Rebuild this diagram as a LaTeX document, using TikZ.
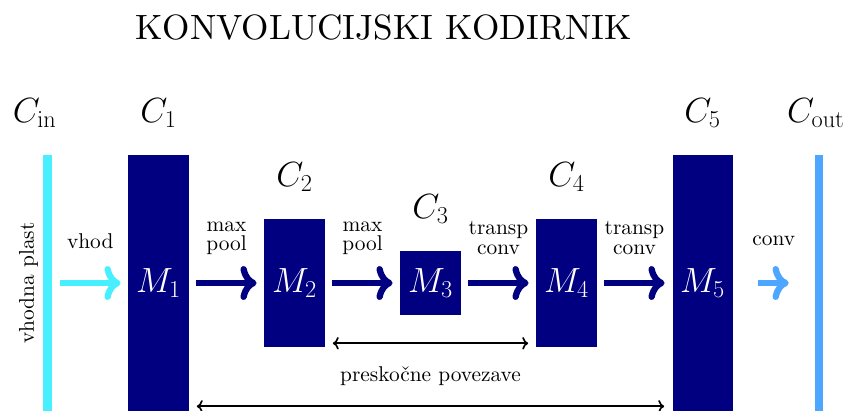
\documentclass[tikz,border=0pt]{standalone}
\usepackage{amsmath}
\usetikzlibrary{arrows.meta}
\definecolor{unetnavy}{RGB}{0,0,128}
\definecolor{incyan}{RGB}{72,240,255}
\definecolor{outblue}{RGB}{77,166,255}

\begin{document}
\begin{tikzpicture}[x=0.025cm, y=-0.025cm,
  block/.style={fill=unetnavy, minimum width=1.5cm, inner sep=0pt, text=white, font=\fontsize{23.5}{28}\selectfont},
  tall/.style={block, minimum height=6.4cm},
  mid/.style={block, minimum height=3.2cm},
  low/.style={block, minimum height=1.6cm},
  bar/.style={minimum width=0.225cm, minimum height=6.4cm, inner sep=0pt},
  ch/.style={font=\fontsize{24}{29}\selectfont, text=black, inner sep=0pt, label distance=0.67cm},
  flow/.style={-{To}, line width=4.5pt, draw=unetnavy, shorten <=0.19cm, shorten >=0.19cm},
  skip/.style={{To}-{To}, line width=1.2pt, shorten <=0.2cm, shorten >=0.2cm},
  txt/.style={font=\fontsize{10}{9}\selectfont, align=center, scale=1.52, transform shape}]
\useasboundingbox (0,0) rectangle (848,410);
\clip (0,0) rectangle (848,410);
\node[font=\fontsize{10}{12}\selectfont, scale=2.5, transform shape] (title) at (383.5,27.5) {KONVOLUCIJSKI KODIRNIK};
\node[bar, fill=incyan, label={[ch, xshift=-0.32cm]above:$C_{\mathrm{in}}$}] (cin) at (47.5,283) {};
\node[tall, label={[ch]above:$C_1$}] (m1) at (158.5,283) {$M_1$};
\node[mid, label={[ch]above:$C_2$}] (m2) at (294.5,283) {$M_2$};
\node[low, label={[ch]above:$C_3$}] (m3) at (430.5,283) {$M_3$};
\node[mid, label={[ch]above:$C_4$}] (m4) at (566.5,283) {$M_4$};
\node[tall, label={[ch]above:$C_5$}] (m5) at (702.5,283) {$M_5$};
\node[bar, minimum width=0.2cm, fill=outblue, label={[ch, xshift=-0.08cm]above:$C_{\mathrm{out}}$}] (cout) at (819,283) {};
\node[txt, rotate=90] (inlayer) at (28.5,283) {vhodna plast};
\draw[flow, draw=incyan] (cin) -- (m1) node[midway, txt, yshift=0.68cm] {vhod};
\draw[flow] (m1) -- (m2) node[midway, txt, yshift=0.74cm] {max\\pool};
\draw[flow] (m2) -- (m3) node[midway, txt, yshift=0.74cm] {max\\pool};
\draw[flow] (m3) -- (m4) node[midway, txt, yshift=0.74cm] {transp\\conv};
\draw[flow] (m4) -- (m5) node[midway, txt, yshift=0.74cm] {transp\\conv};
\draw[flow, draw=outblue, shorten <=0.63cm, shorten >=0.65cm] (m5) -- (cout) node[midway, txt, yshift=0.7cm] {conv};
\draw[skip] ([yshift=0.1cm]m2.south east) -- ([yshift=0.1cm]m4.south west) node[midway, txt, yshift=-0.54cm] {preskočne povezave};
\draw[skip] ([yshift=0.125cm]m1.south east) -- ([yshift=0.125cm]m5.south west);
\end{tikzpicture}
\end{document}
